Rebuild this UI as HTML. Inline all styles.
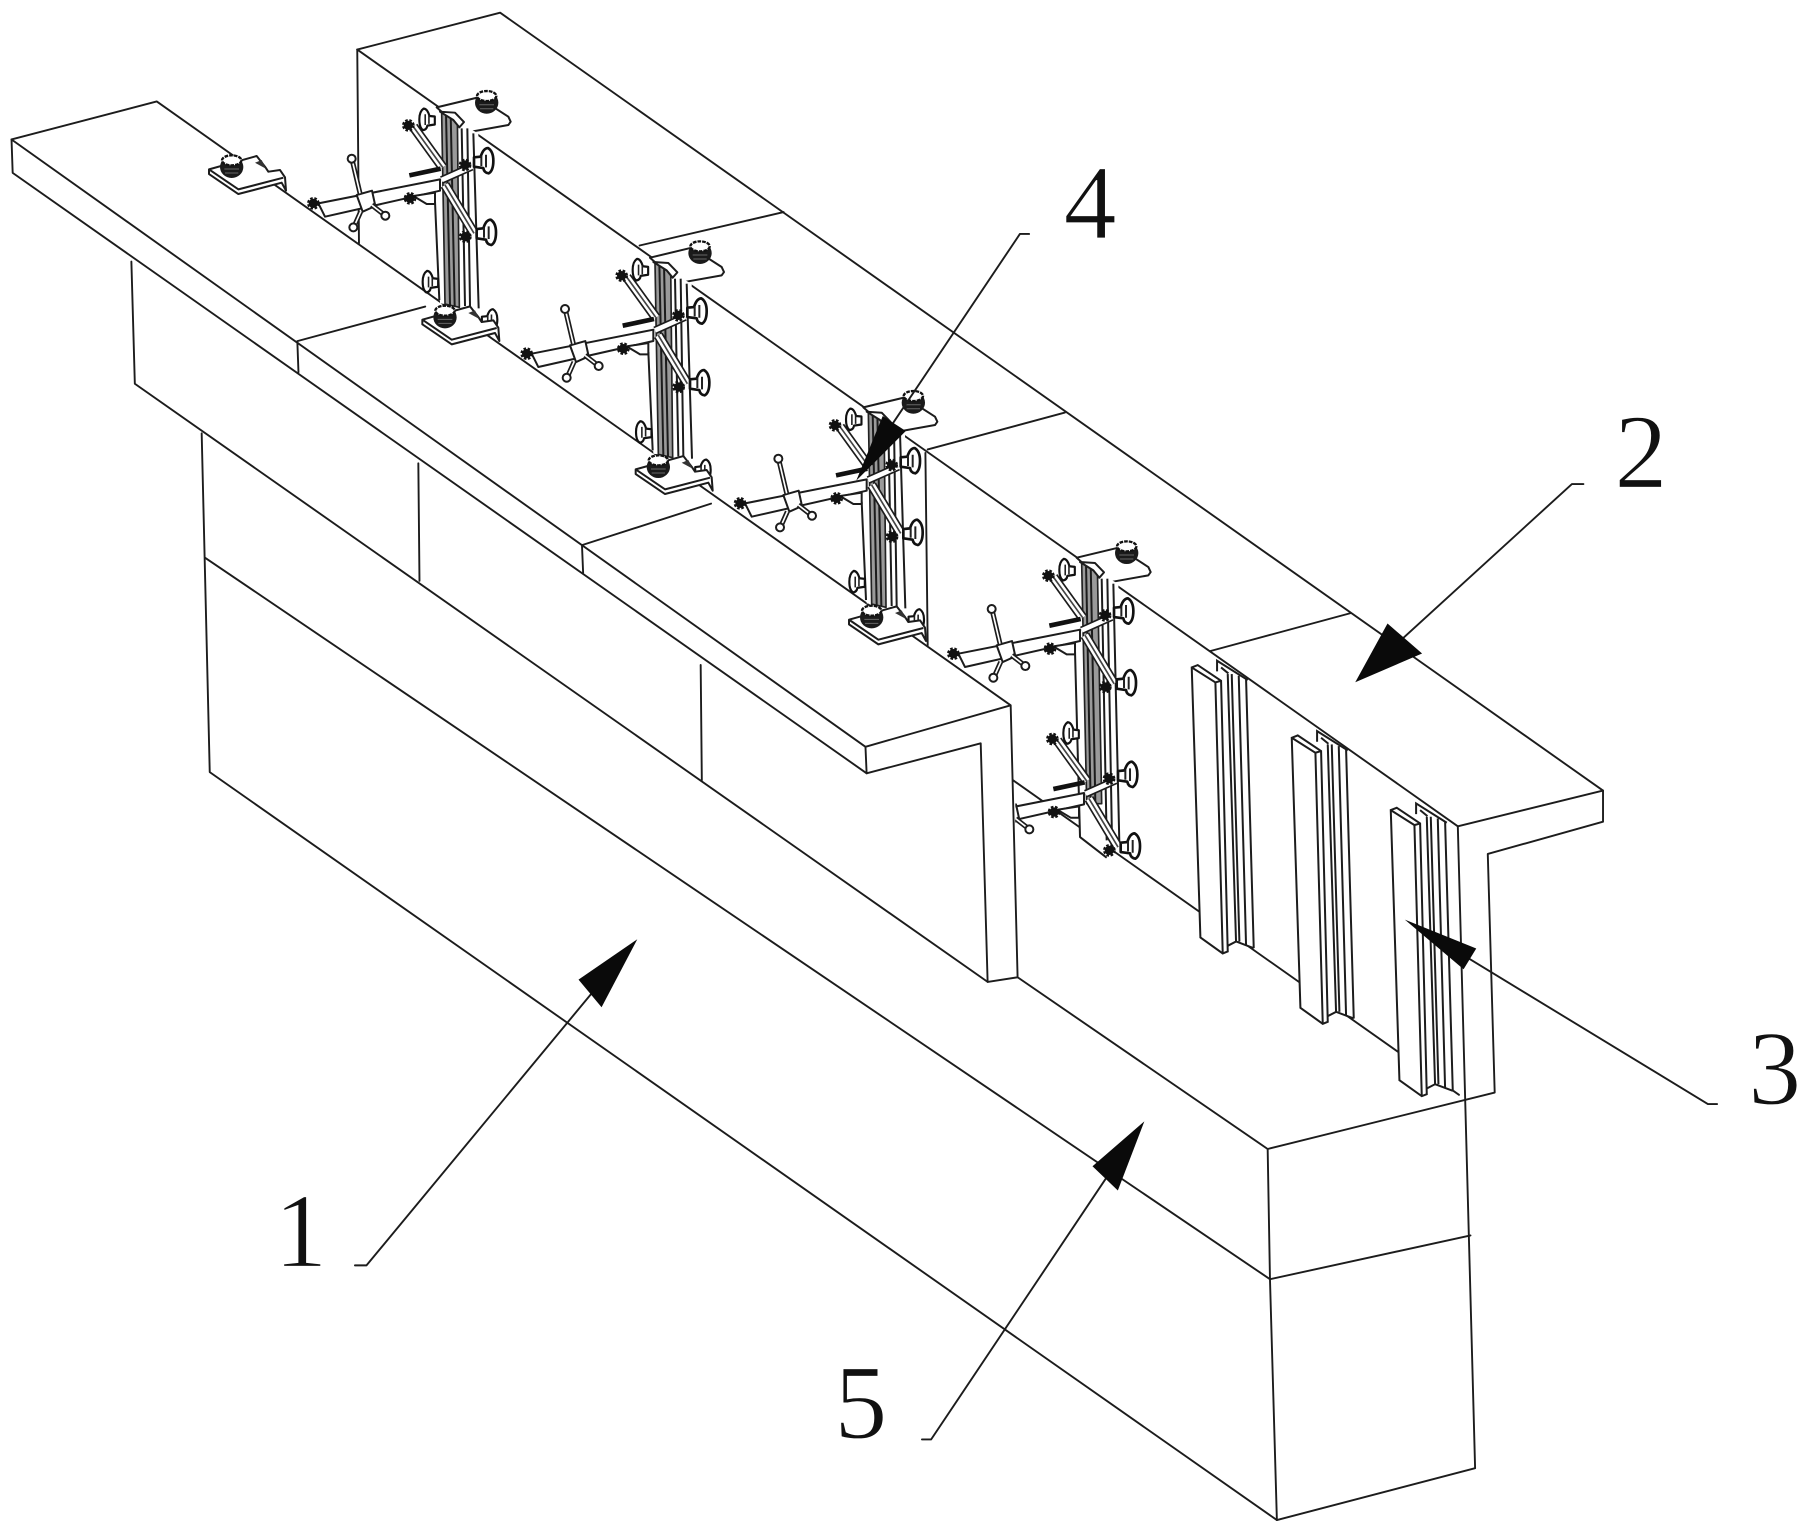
<!DOCTYPE html>
<html><head><meta charset="utf-8"><style>
html,body{margin:0;padding:0;background:#fff}
svg{display:block}
.l{fill:none;stroke:#1c1c1c;stroke-width:1.65;stroke-linejoin:round;stroke-linecap:round}
.u *{stroke-linejoin:round}
.a{fill:#fff;stroke:#1c1c1c;stroke-width:6}
.b{fill:none;stroke:#1c1c1c;stroke-width:6}
.t{font-family:"Liberation Serif",serif;font-size:92px;fill:#111;stroke:#fff;stroke-width:1;text-anchor:middle}
</style></head><body>
<svg xmlns="http://www.w3.org/2000/svg" width="1807" height="1533" viewBox="0 0 1568 1330.2">
<defs>
<clipPath id="cr"><rect x="881" y="500" width="300" height="400"/></clipPath>
<g id="nut"><circle r="14" fill="#111"/><circle r="16" fill="none" stroke="#111" stroke-width="6" stroke-dasharray="8 5"/></g>
<g id="knob"><path d="M-28 -10 L-8 -12 Q0 -38 14 -38 Q30 -28 30 0 Q30 30 16 38 Q2 36 0 22 L-28 18 Z" fill="#fff" stroke="#111" stroke-width="8"/><path d="M-6 -14 V16 M8 -18 V20" fill="none" stroke="#222" stroke-width="6"/></g>
<g id="screw"><ellipse cx="0" cy="6" rx="35" ry="33" fill="#1a1a1a"/><ellipse cx="0" cy="-14" rx="29" ry="15" fill="#fff" stroke="#111" stroke-width="7" stroke-dasharray="11 3"/><path d="M-22 12 H22 M-20 24 H20" stroke="#666" stroke-width="3"/></g>
<g id="col">
<polygon class="a" points="710,112 835,82 925,140 932,155 925,165 785,190 770,165"/>
<use href="#screw" x="860" y="92"/>
<polygon points="705,120 835,190 838,715 720,700" fill="#fff"/>
<path class="b" d="M705 395 L718 690 M785 175 L795 708 M802 175 L810 708 M820 190 L836 715"/>
<polygon points="725,130 772,135 778,712 735,702" fill="#9a9a9a" stroke="#222" stroke-width="5"/>
<path class="b" d="M738 130 L750 705 M752 132 L764 708"/>
<polygon class="a" points="720,125 765,128 792,156 778,172 760,150"/>
</g>
<g id="col3">
<polygon class="a" points="710,112 835,82 925,140 932,155 925,165 785,190 770,165"/>
<use href="#screw" x="860" y="92"/>
<polygon points="705,120 835,190 848,950 800,1012 720,950" fill="#fff"/>
<path class="b" d="M705 395 L720 950 L800 1012 M785 175 L800 960 M802 175 L816 960 M820 190 L838 970"/>
<polygon points="725,130 772,135 785,850 740,850" fill="#9a9a9a" stroke="#222" stroke-width="5"/>
<path class="b" d="M738 130 L752 850 M752 132 L766 850"/>
<polygon class="a" points="720,125 765,128 792,156 778,172 760,150"/>
</g>
<g id="low">
<use href="#knob" transform="translate(692 635) scale(-.8 .85)"/>
<use href="#knob" transform="translate(868 748) scale(.8)"/>
<path d="M805 718 L835 750" stroke="#222" stroke-width="12"/>
</g>
<g id="x">
<line x1="640" y1="170" x2="728" y2="292" stroke="#1c1c1c" stroke-width="30"/>
<line x1="640" y1="170" x2="728" y2="292" stroke="#fff" stroke-width="20"/>
<line x1="640" y1="170" x2="728" y2="292" stroke="#444" stroke-width="5"/>
<line x1="735" y1="345" x2="822" y2="490" stroke="#1c1c1c" stroke-width="30"/>
<line x1="735" y1="345" x2="822" y2="490" stroke="#fff" stroke-width="20"/>
<line x1="735" y1="345" x2="822" y2="490" stroke="#444" stroke-width="5"/>
<use href="#knob" transform="translate(682 148) scale(-.8 .85)"/>
<use href="#knob" transform="translate(850 272)"/>
<use href="#knob" transform="translate(858 487)"/>
<line x1="628" y1="316" x2="722" y2="296" stroke="#111" stroke-width="14"/>
<line x1="725" y1="330" x2="815" y2="290" stroke="#1c1c1c" stroke-width="24"/>
<line x1="725" y1="330" x2="815" y2="290" stroke="#fff" stroke-width="14"/>
<polygon class="a" points="355,400 720,328 720,362 375,440"/>
<path class="a" d="M640 378 L705 368 L705 402 L680 402 Z"/>
<polygon class="a" points="470,375 516,362 526,408 488,425"/>
<path d="M480 370 L456 268 M482 425 L462 470 M515 405 L555 436" stroke="#1c1c1c" stroke-width="15"/>
<path d="M480 370 L456 268 M482 425 L462 470 M515 405 L555 436" stroke="#fff" stroke-width="5"/>
<circle cx="455" cy="266" r="12" class="a"/><circle cx="460" cy="472" r="12" class="a"/><circle cx="556" cy="437" r="12" class="a"/>
<use href="#nut" x="340" y="400"/><use href="#nut" x="625" y="166"/><use href="#nut" x="795" y="285"/><use href="#nut" x="796" y="500"/><use href="#nut" x="630" y="385"/>
</g>
<g id="plate">
<polygon class="a" points="27,298 170,258 195,290 205,305 240,300 255,322 258,362 245,338 115,372 27,312"/>
<path class="b" d="M30 300 L115 358 L250 323"/>
<path d="M165 278 L185 270 L198 296 Z" fill="#333"/>
<use href="#screw" x="95" y="285"/>
</g>
<g id="tbar">
<polygon points="735,490 830,548 850,1352 825,1345 797,1332 770,1345 755,1368 688,1320 662,510" fill="#fff"/>
<path class="b" d="M738 522 L738 490 L830 548 M750 510 L772 528 M770 530 L795 1335 M782 530 L805 1332 M803 535 L825 1345 M825 545 L848 1352 M770 1345 L795 1332 L848 1352"/>
<path class="a" d="M662 510 L680 503 L750 550 L770 1362 L755 1368 L688 1320 Z"/>
<path class="b" d="M662 510 L733 555 L755 1368 M733 555 L750 550"/>
</g>
</defs>
<rect width="1568" height="1331" fill="#fff"/>

<!-- right wall and base -->
<path class="l" d="M310 43 L434 11 L1391 686 L1391 713 L1291 741 L1297 948 L1100 997"/>
<path class="l" d="M310 43 L1265 717 L1391 686"/>
<path class="l" d="M1265 717 L1280 1274 L1108 1319 L182 670 L175 376"/>
<path class="l" d="M178 484 L1102 1110 L1276 1072"/>
<path class="l" d="M883 848 L1100 997 L1102 1110 L1108 1319"/>
<path class="l" d="M310 43 L311.5 211"/>
<path class="l" d="M555 213 L680 184 M805 390 L924 358 M1050 565 L1172 532"/>
<path class="l" d="M803 393 L805 560"/>
<path class="l" d="M879 677 L1266 950"/>

<!-- T bars -->
<g transform="translate(1015.3 555.4) scale(.2893)">
<use href="#tbar" transform="translate(-597 -428)"/>
<use href="#tbar" transform="translate(-297 -217)"/>
<use href="#tbar"/>
</g>

<!-- unit 3 with lower assembly -->
<g class="u" transform="translate(173.55 60.74) scale(.28925)">
<g transform="translate(1920 1351)">
<use href="#col3"/>
<use href="#x"/>
</g>
</g>
<g clip-path="url(#cr)">
<g class="u" transform="translate(173.55 60.74) scale(.28925)">
<g transform="translate(1932 1841)"><use href="#x"/></g>
</g>
</g>

<!-- left wall -->
<polygon points="752,671 851,645 857,852 883,848 877,612 751,648" fill="#fff"/>
<path class="l" d="M10 121 L136 88 L877 612 L883 848 L857 852 L851 645 L752 671 L751 648 L877 612"/>
<path class="l" d="M10 121 L751 648 M10 121 L11 150 L752 671"/>
<path class="l" d="M114 227 L117 333 L857 852"/>
<path class="l" d="M258 296 L369 266 M258 296 L259 323 M505 473 L617 437 M505 473 L506 497 M363 402 L364 504 M608 577 L609 677"/>

<!-- units -->
<g class="u" transform="translate(173.55 60.74) scale(.28925)">
<g><use href="#col"/><use href="#low"/><use href="#x"/></g>
<g transform="translate(640 451)"><use href="#col"/><use href="#low"/><use href="#x"/></g>
<g transform="translate(1280 900)"><use href="#col"/><use href="#low"/><use href="#x"/></g>
<use href="#plate"/>
<use href="#plate" transform="translate(640 451)"/>
<use href="#plate" transform="translate(1280 900)"/>
<use href="#plate" transform="translate(1920 1351)"/>
</g>

<!-- leaders and arrows -->
<path class="l" d="M308 1098 L318 1098 L515 860"/>
<polygon points="553,815 502,850 522,874" fill="#0a0a0a"/>
<path class="l" d="M893 203 L885 203 L775 367"/>
<polygon points="743,417 766,361 786,374" fill="#0a0a0a"/>
<path class="l" d="M1374 420 L1364 420 L1215 556"/>
<polygon points="1176,592 1204,541 1234,567" fill="#0a0a0a"/>
<path class="l" d="M1490 958 L1482 958 L1275 832"/>
<polygon points="1219,798 1281,823 1270,841" fill="#0a0a0a"/>
<path class="l" d="M800 1249 L808 1249 L960 1022"/>
<polygon points="993,973 948,1012 970,1033" fill="#0a0a0a"/>

<text class="t" x="261" y="1099">1</text>
<text class="t" x="1424" y="423">2</text>
<text class="t" x="1540" y="958">3</text>
<text class="t" x="946" y="207">4</text>
<text class="t" x="747" y="1248">5</text>
</svg>
</body></html>
